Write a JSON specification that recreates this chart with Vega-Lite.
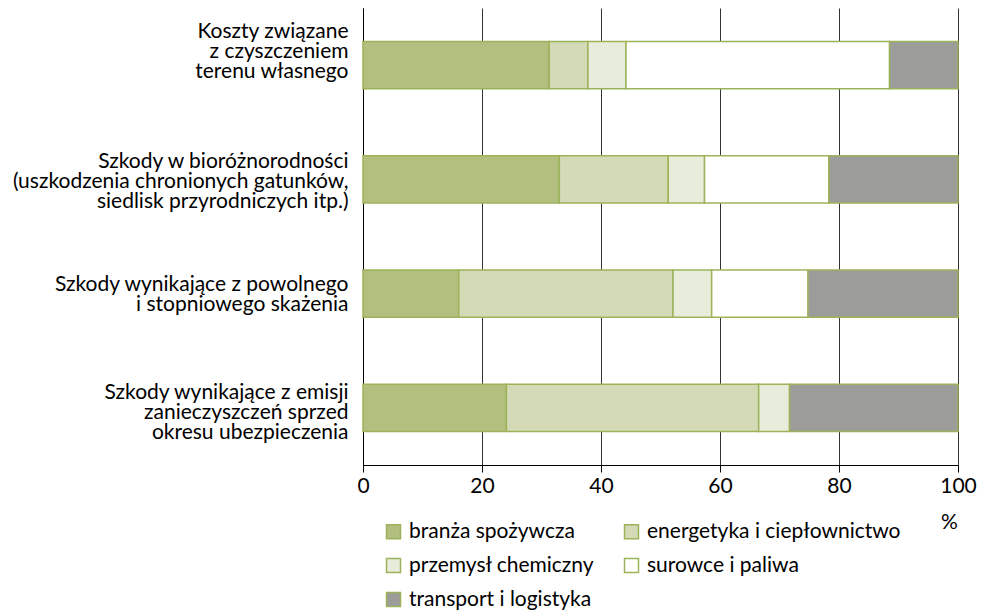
{
  "$schema": "https://vega.github.io/schema/vega-lite/v6.json",
  "autosize": {"type": "none"},
  "width": 595,
  "height": 457,
  "padding": {"left": 363, "top": 8, "right": 25, "bottom": 145},
  "config": {
    "font": "Lato",
    "view": {"stroke": null},
    "axis": {"labelFont": "Lato", "titleFont": "Lato", "labelColor": "#000000", "titleColor": "#000000"},
    "legend": {"labelFont": "Lato"}
  },
  "data": {
    "values": [
      {"cat": "Koszty związane|z czyszczeniem|terenu własnego", "sektor": "branża spożywcza", "o": 1, "v": 31.3},
      {"cat": "Koszty związane|z czyszczeniem|terenu własnego", "sektor": "energetyka i ciepłownictwo", "o": 2, "v": 6.5},
      {"cat": "Koszty związane|z czyszczeniem|terenu własnego", "sektor": "przemysł chemiczny", "o": 3, "v": 6.4},
      {"cat": "Koszty związane|z czyszczeniem|terenu własnego", "sektor": "surowce i paliwa", "o": 4, "v": 44.3},
      {"cat": "Koszty związane|z czyszczeniem|terenu własnego", "sektor": "transport i logistyka", "o": 5, "v": 11.5},
      {"cat": "Szkody w bioróżnorodności|(uszkodzenia chronionych gatunków,|siedlisk przyrodniczych itp.)", "sektor": "branża spożywcza", "o": 1, "v": 33.0},
      {"cat": "Szkody w bioróżnorodności|(uszkodzenia chronionych gatunków,|siedlisk przyrodniczych itp.)", "sektor": "energetyka i ciepłownictwo", "o": 2, "v": 18.3},
      {"cat": "Szkody w bioróżnorodności|(uszkodzenia chronionych gatunków,|siedlisk przyrodniczych itp.)", "sektor": "przemysł chemiczny", "o": 3, "v": 6.1},
      {"cat": "Szkody w bioróżnorodności|(uszkodzenia chronionych gatunków,|siedlisk przyrodniczych itp.)", "sektor": "surowce i paliwa", "o": 4, "v": 20.9},
      {"cat": "Szkody w bioróżnorodności|(uszkodzenia chronionych gatunków,|siedlisk przyrodniczych itp.)", "sektor": "transport i logistyka", "o": 5, "v": 21.7},
      {"cat": "Szkody wynikające z powolnego|i stopniowego skażenia", "sektor": "branża spożywcza", "o": 1, "v": 16.1},
      {"cat": "Szkody wynikające z powolnego|i stopniowego skażenia", "sektor": "energetyka i ciepłownictwo", "o": 2, "v": 36.0},
      {"cat": "Szkody wynikające z powolnego|i stopniowego skażenia", "sektor": "przemysł chemiczny", "o": 3, "v": 6.5},
      {"cat": "Szkody wynikające z powolnego|i stopniowego skażenia", "sektor": "surowce i paliwa", "o": 4, "v": 16.2},
      {"cat": "Szkody wynikające z powolnego|i stopniowego skażenia", "sektor": "transport i logistyka", "o": 5, "v": 25.2},
      {"cat": "Szkody wynikające z emisji|zanieczyszczeń sprzed|okresu ubezpieczenia", "sektor": "branża spożywcza", "o": 1, "v": 24.1},
      {"cat": "Szkody wynikające z emisji|zanieczyszczeń sprzed|okresu ubezpieczenia", "sektor": "energetyka i ciepłownictwo", "o": 2, "v": 42.4},
      {"cat": "Szkody wynikające z emisji|zanieczyszczeń sprzed|okresu ubezpieczenia", "sektor": "przemysł chemiczny", "o": 3, "v": 5.2},
      {"cat": "Szkody wynikające z emisji|zanieczyszczeń sprzed|okresu ubezpieczenia", "sektor": "surowce i paliwa", "o": 4, "v": 0},
      {"cat": "Szkody wynikające z emisji|zanieczyszczeń sprzed|okresu ubezpieczenia", "sektor": "transport i logistyka", "o": 5, "v": 28.3}
    ]
  },
  "mark": {"type": "bar", "stroke": "#9db35a", "strokeWidth": 1.5},
  "encoding": {
    "y": {
      "field": "cat",
      "type": "nominal",
      "sort": null,
      "scale": {"paddingInner": 0.588, "paddingOuter": 0.294},
      "axis": {
        "title": null,
        "labelExpr": "split(datum.label, '|')",
        "labelFontSize": 21,
        "labelLineHeight": 20,
        "labelPadding": 15,
        "labelLimit": 400,
        "ticks": false,
        "domainColor": "#000000",
        "domainWidth": 1,
        "labelOffset": {
          "condition": [
            {"test": "indexof(datum.value, 'Koszty') == 0", "value": -33},
            {"test": "indexof(datum.value, 'emisji') >= 0", "value": -15},
            {"test": "indexof(datum.value, 'bioró') >= 0", "value": -17}
          ],
          "value": -9
        }
      }
    },
    "x": {
      "field": "v",
      "type": "quantitative",
      "stack": "zero",
      "scale": {"domain": [0, 100], "nice": false},
      "axis": {
        "title": "%",
        "values": [0, 20, 40, 60, 80, 100],
        "labelFlush": false,
        "labelFontSize": 21,
        "labelPadding": 3,
        "tickSize": 7,
        "tickColor": "#000000",
        "domainColor": "#000000",
        "gridColor": "#333333",
        "gridWidth": 1,
        "titleFontSize": 21,
        "titleFontWeight": "normal",
        "titleX": 586,
        "titleY": 57,
        "titleAlign": "center",
        "titleBaseline": "middle"
      }
    },
    "color": {
      "field": "sektor",
      "type": "nominal",
      "sort": ["branża spożywcza", "energetyka i ciepłownictwo", "przemysł chemiczny", "surowce i paliwa", "transport i logistyka"],
      "scale": {
        "domain": ["branża spożywcza", "energetyka i ciepłownictwo", "przemysł chemiczny", "surowce i paliwa", "transport i logistyka"],
        "range": ["#b3bf7e", "#d5dab6", "#e8ecdb", "#ffffff", "#9c9c9b"]
      },
      "legend": {
        "title": null,
        "orient": "none",
        "direction": "horizontal",
        "legendX": 20,
        "legendY": 513,
        "columns": 2,
        "columnPadding": 26,
        "rowPadding": 12,
        "padding": 0,
        "symbolType": "square",
        "symbolSize": 196,
        "symbolStrokeColor": "#9db35a",
        "symbolStrokeWidth": 1.5,
        "labelFontSize": 21,
        "labelOffset": 5,
        "labelColor": "#000000",
        "labelLimit": 400
      }
    },
    "order": {"field": "o", "type": "quantitative"}
  }
}
